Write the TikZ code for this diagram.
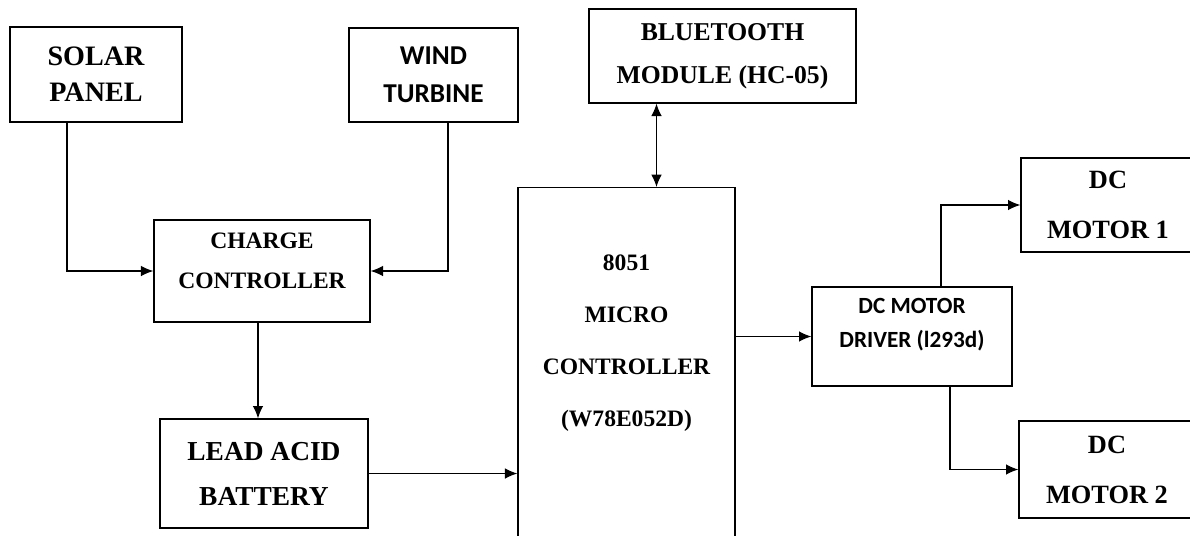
\documentclass[tikz,border=0pt]{standalone}
\usepackage{fontspec}
\usepackage{tikz}
\usetikzlibrary{arrows.meta}
\setmainfont{Liberation Serif}
\newfontfamily\calibri{Carlito}
\newcommand{\bfs}[2]{\fontsize{#1}{#2}\selectfont\bfseries}

\begin{document}
\begin{tikzpicture}[
      >={Latex[length=7pt,width=6pt]},
      blk/.style={draw, line width=0.8pt, align=center, inner sep=0pt, minimum width=#1},
      link/.style={line width=0.65pt}
    ]
      \useasboundingbox (0,0) rectangle (23.8,-10.7);

      \node[blk=3.44cm, minimum height=1.90cm, font=\bfs{16}{20.5}] (solar) at (1.92,-1.49) {SOLAR \\ PANEL};
      \node[blk=3.38cm, minimum height=1.88cm, font=\calibri\bfs{15.5}{21.5}] (wind) at (8.67,-1.50) {WIND \\ TURBINE};
      \node[blk=4.32cm, minimum height=2.04cm, text depth=12pt, font=\bfs{13.4}{22.8}] (charge) at (5.24,-5.42) {CHARGE \\ CONTROLLER};
      \node[blk=4.16cm, minimum height=2.18cm, font=\bfs{15.6}{25.6}] (battery) at (5.28,-9.47) {LEAD ACID \\ BATTERY};
      \node[blk=5.34cm, minimum height=1.88cm, font=\bfs{14.6}{24.5}] (bt) at (14.45,-1.12) {BLUETOOTH \\ MODULE (HC-05)};

      \node[blk=4.34cm, minimum height=8cm, anchor=north] (mcu) at (12.53,-3.74) {};
      \node[align=center, font=\bfs{13.4}{29.5}] (mcutext) at (12.53,-6.86) {8051 \\ MICRO \\ CONTROLLER \\ (W78E052D)};

      \node[blk=4.0cm, minimum height=1.98cm, text depth=16pt, font=\calibri\bfs{13.2}{19.3}] (drv) at (18.24,-6.73) {DC MOTOR \\ DRIVER (l293d)};
      \node[blk=3.48cm, minimum height=1.88cm, font=\bfs{15}{28.4}] (m1) at (22.16,-4.10) {DC \\ MOTOR 1};
      \node[blk=3.52cm, minimum height=1.94cm, font=\bfs{15}{28.4}] (m2) at (22.14,-9.39) {DC \\ MOTOR 2};

      \draw[link, ->] ([xshift=-0.58cm]solar.south) |- (charge.west);
      \draw[link, ->] ([xshift=0.29cm]wind.south) |- (charge.east);
      \draw[link, ->] ([xshift=-0.08cm]charge.south) -- ([xshift=-0.08cm]charge.south |- battery.north);
      \draw[link, ->] (battery.east) -- (battery.east -| mcu.west);
      \draw[link, <->] ([xshift=-1.32cm]bt.south) -- ([xshift=-1.32cm]bt.south |- mcu.north);
      \draw[link, ->] (drv.west -| mcu.east) -- (drv.west);
      \draw[link, ->] ([xshift=0.58cm]drv.north) |- (m1.west);
      \draw[link, ->] ([xshift=0.76cm]drv.south) |- (m2.west);
    \end{tikzpicture}
\end{document}
